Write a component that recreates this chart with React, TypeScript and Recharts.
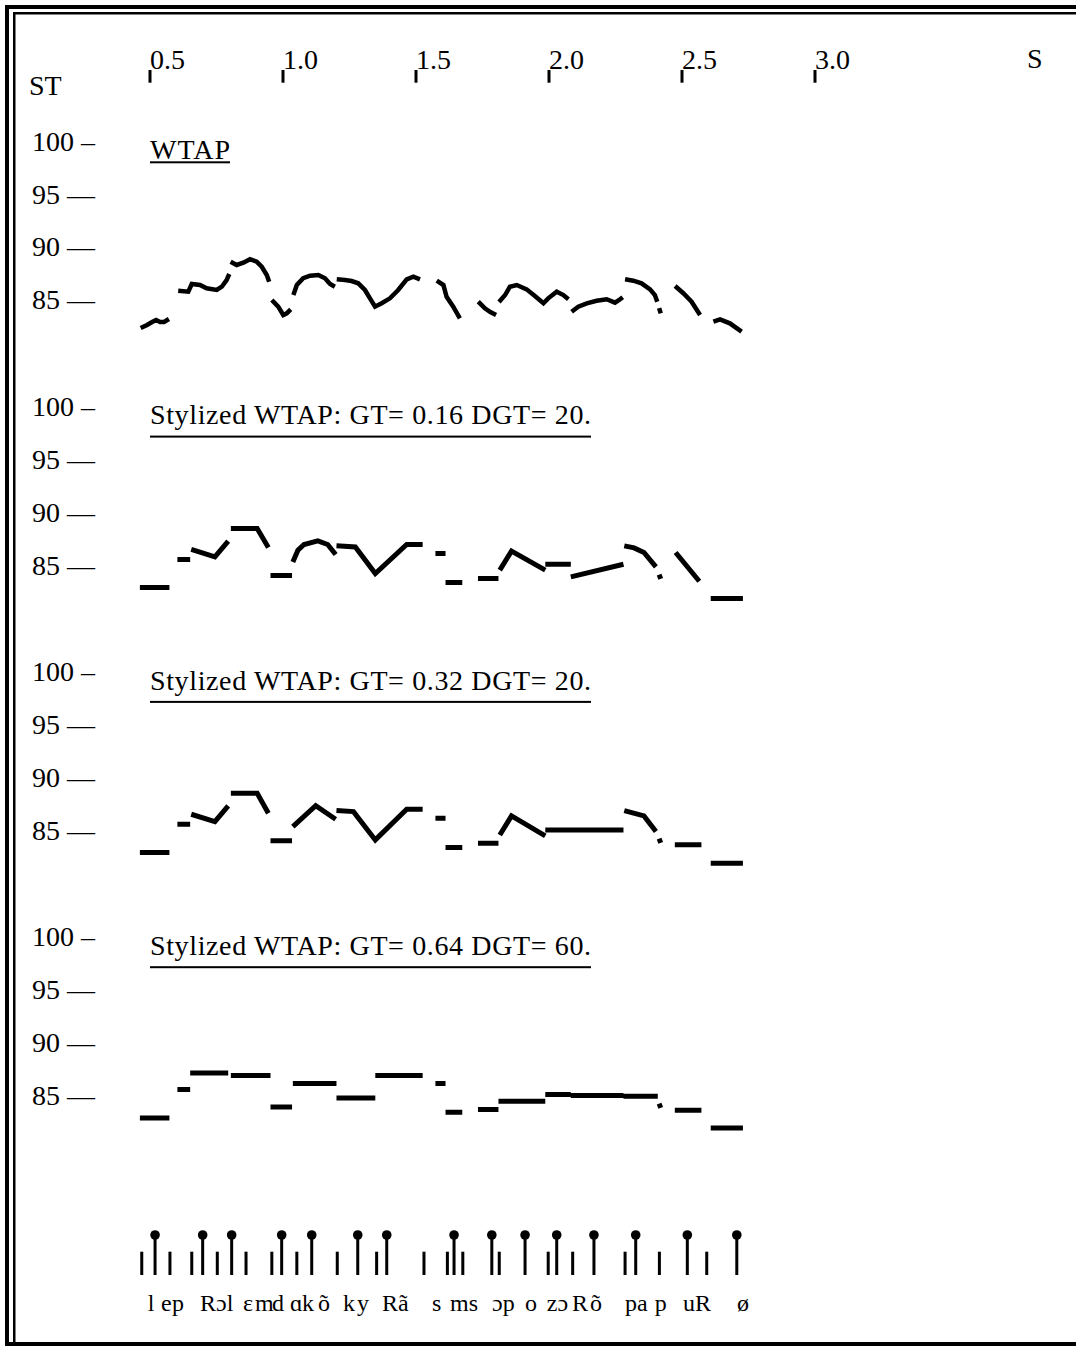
import React from 'react';
import { LineChart, Line, XAxis, YAxis, ScatterChart, Scatter } from 'recharts';

// [time (s), pitch (ST)] pairs, one array per voiced stretch
type Seg = number[][];

const timeTicks = [0.5, 1.0, 1.5, 2.0, 2.5, 3.0];
const stTicks = [85, 90, 95, 100];

const panelTitles = [
  'WTAP',
  'Stylized WTAP: GT= 0.16 DGT= 20.',
  'Stylized WTAP: GT= 0.32 DGT= 20.',
  'Stylized WTAP: GT= 0.64 DGT= 60.',
];

const wtap: Seg[] = [
  [[0.465, 82.51], [0.489, 82.79], [0.508, 83.08], [0.523, 83.27], [0.538, 83.08], [0.553, 83.08], [0.571, 83.36]],
  [[0.606, 86.04], [0.644, 85.95], [0.657, 86.68], [0.688, 86.58], [0.713, 86.27], [0.751, 86.11], [0.77, 86.42], [0.788, 87.05], [0.798, 87.62]],
  [[0.803, 88.79], [0.826, 88.48], [0.851, 88.69], [0.876, 89.02], [0.901, 88.79], [0.92, 88.31], [0.939, 87.53], [0.948, 86.89]],
  [[0.958, 85.16], [0.982, 84.53], [1.001, 83.74], [1.014, 83.9], [1.029, 84.28]],
  [[1.039, 85.63], [1.052, 86.58], [1.076, 87.22], [1.102, 87.46], [1.133, 87.53], [1.158, 87.22], [1.177, 86.68], [1.195, 86.42]],
  [[1.202, 87.12], [1.233, 87.05], [1.258, 86.96], [1.283, 86.74], [1.308, 86.11], [1.327, 85.32], [1.346, 84.53], [1.371, 84.85], [1.402, 85.32], [1.433, 86.11], [1.465, 87.12], [1.49, 87.37], [1.515, 87.12]],
  [[1.578, 86.99], [1.603, 86.58], [1.615, 85.47], [1.64, 84.53], [1.665, 83.43]],
  [[1.734, 85.0], [1.759, 84.38], [1.778, 84.05], [1.801, 83.74]],
  [[1.812, 84.97], [1.835, 85.63], [1.853, 86.42], [1.879, 86.58], [1.916, 86.17], [1.947, 85.54], [1.979, 84.85], [1.997, 85.32], [2.029, 85.95], [2.054, 85.63], [2.073, 85.23]],
  [[2.085, 84.05], [2.11, 84.53], [2.142, 84.85], [2.179, 85.09], [2.217, 85.23], [2.248, 84.91], [2.264, 85.16], [2.277, 85.42]],
  [[2.286, 87.12], [2.317, 86.99], [2.348, 86.74], [2.38, 86.17], [2.398, 85.63], [2.407, 85.0]],
  [[2.414, 84.4], [2.42, 83.9]],
  [[2.474, 86.49], [2.505, 85.8], [2.536, 85.0], [2.568, 83.74]],
  [[2.618, 83.11], [2.643, 83.33], [2.68, 82.95], [2.724, 82.16]],
];

const stylized016: Seg[] = [
  [[0.462, 83.08], [0.573, 83.08]],
  [[0.603, 85.73], [0.651, 85.73]],
  [[0.655, 86.68], [0.744, 85.98], [0.794, 87.46]],
  [[0.804, 88.66], [0.903, 88.66], [0.945, 86.87]],
  [[0.953, 84.21], [1.034, 84.21]],
  [[1.037, 85.5], [1.056, 86.61], [1.079, 87.15], [1.131, 87.49], [1.168, 87.15], [1.198, 86.2]],
  [[1.201, 87.02], [1.272, 86.92], [1.347, 84.4], [1.465, 87.15], [1.525, 87.15]],
  [[1.573, 86.3], [1.611, 86.3]],
  [[1.611, 83.55], [1.674, 83.55]],
  [[1.733, 83.93], [1.81, 83.93]],
  [[1.815, 84.72], [1.859, 86.52], [1.986, 84.72]],
  [[1.986, 85.28], [2.082, 85.28]],
  [[2.082, 84.08], [2.28, 85.28]],
  [[2.283, 87.02], [2.32, 86.83], [2.357, 86.39], [2.402, 85.03]],
  [[2.414, 84.3], [2.42, 83.9]],
  [[2.476, 86.39], [2.565, 83.67]],
  [[2.608, 82.04], [2.729, 82.04]],
];

const stylized032: Seg[] = [
  [[0.462, 83.07], [0.573, 83.07]],
  [[0.603, 85.76], [0.651, 85.76]],
  [[0.655, 86.7], [0.744, 86.0], [0.794, 87.49]],
  [[0.804, 88.69], [0.903, 88.69], [0.945, 86.8]],
  [[0.953, 84.18], [1.034, 84.18]],
  [[1.037, 85.53], [1.123, 87.52], [1.198, 86.23]],
  [[1.201, 87.05], [1.265, 86.95], [1.347, 84.27], [1.465, 87.18], [1.525, 87.18]],
  [[1.573, 86.33], [1.611, 86.33]],
  [[1.611, 83.54], [1.674, 83.54]],
  [[1.733, 83.96], [1.81, 83.96]],
  [[1.815, 84.74], [1.859, 86.54], [1.986, 84.65]],
  [[1.986, 85.22], [2.28, 85.22]],
  [[2.283, 87.05], [2.357, 86.54], [2.402, 85.06]],
  [[2.414, 84.4], [2.42, 84.0]],
  [[2.473, 83.8], [2.573, 83.8]],
  [[2.608, 82.06], [2.729, 82.06]],
];

const stylized064: Seg[] = [
  [[0.462, 83.04], [0.573, 83.04]],
  [[0.603, 85.72], [0.651, 85.72]],
  [[0.651, 87.3], [0.794, 87.3]],
  [[0.804, 87.05], [0.953, 87.05]],
  [[0.953, 84.08], [1.034, 84.08]],
  [[1.037, 86.29], [1.201, 86.29]],
  [[1.201, 84.93], [1.347, 84.93]],
  [[1.347, 87.05], [1.525, 87.05]],
  [[1.573, 86.29], [1.611, 86.29]],
  [[1.611, 83.57], [1.674, 83.57]],
  [[1.733, 83.83], [1.81, 83.83]],
  [[1.81, 84.61], [1.986, 84.61]],
  [[1.986, 85.25], [2.082, 85.25]],
  [[2.082, 85.15], [2.28, 85.15]],
  [[2.28, 85.09], [2.409, 85.09]],
  [[2.414, 84.4], [2.42, 84.0]],
  [[2.473, 83.76], [2.573, 83.76]],
  [[2.608, 82.09], [2.729, 82.09]],
];

// syllable nuclei (knobbed sticks) and phone boundaries (plain sticks)
const syllableTimes = [0.519, 0.698, 0.807, 0.995, 1.108, 1.281, 1.39, 1.643, 1.785, 1.91, 2.029, 2.169, 2.326, 2.52, 2.706];
const boundaryTimes = [0.469, 0.575, 0.657, 0.753, 0.861, 0.958, 1.052, 1.204, 1.352, 1.53, 1.618, 1.676, 1.813, 1.997, 2.089, 2.286, 2.415, 2.593];

const phones = ['l', 'e', 'p', 'Rɔ', 'l', 'ɛ', 'm', 'd', 'ɑ', 'k', 'õ', 'k', 'y', 'Rã', 's', 'ms', 'ɔp', 'o', 'zɔ', 'R', 'õ', 'pa', 'p', 'u', 'R', 'ø'];
const phoneTimes = [0.492, 0.541, 0.583, 0.688, 0.789, 0.85, 0.895, 0.959, 1.026, 1.071, 1.132, 1.226, 1.278, 1.372, 1.56, 1.628, 1.786, 1.91, 1.992, 2.086, 2.154, 2.286, 2.398, 2.504, 2.549, 2.707];

const FONT = "'Liberation Serif', 'Times New Roman', Times, serif";
const WIDTH = 1076;
const HEIGHT = 1346;
const T_MAX = 3.9;
const PX_PER_S = 266;
const LEFT = 17;
const RIGHT = WIDTH - LEFT - PX_PER_S * T_MAX;
const PLOT_TOP = 90.5;
const PLOT_H = 264;
const PANEL_STEP = 265.3;

const toRows = (segs: Seg[]) =>
  segs.flatMap((seg) => [
    ...seg.map(([t, st]) => ({ t, st })),
    { t: seg[seg.length - 1][0] + 0.0001, st: null as number | null },
  ]);

const TimeTick = (props: any) => {
  const { x, payload } = props;
  return (
    <g>
      <rect x={x - 1.5} y={70} width={3} height={12.7} fill="#000" />
      <text x={x} y={69} fontFamily={FONT} fontSize={28} fill="#000">
        {Number(payload.value).toFixed(1)}
      </text>
    </g>
  );
};

const StTick = (props: any) => {
  const { y, payload } = props;
  const dash = payload.value === 100 ? '–' : '—';
  return (
    <text x={95} y={y + 7.5} textAnchor="end" fontFamily={FONT} fontSize={28} fill="#000">
      {`${payload.value} ${dash}`}
    </text>
  );
};

const Panel = ({ segs, index }: { segs: Seg[]; index: number }) => {
  const first = index === 0;
  const top = first ? 0 : PLOT_TOP + PANEL_STEP * index;
  return (
    <div style={{ position: 'absolute', left: 0, top }}>
      <LineChart
        width={WIDTH}
        height={PLOT_H + (first ? PLOT_TOP : 0)}
        data={toRows(segs)}
        margin={{ top: first ? PLOT_TOP - 30 : 0, right: RIGHT, bottom: 0, left: 0 }}
      >
        <XAxis
          dataKey="t"
          type="number"
          domain={[0, T_MAX]}
          allowDataOverflow
          orientation="top"
          height={30}
          hide={!first}
          ticks={timeTicks}
          interval={0}
          axisLine={false}
          tickLine={false}
          tick={<TimeTick />}
        />
        <YAxis
          type="number"
          domain={[80, 105]}
          allowDataOverflow
          ticks={stTicks}
          interval={0}
          width={LEFT}
          axisLine={false}
          tickLine={false}
          tick={<StTick />}
        />
        <Line
          dataKey="st"
          type="linear"
          stroke="#000"
          strokeWidth={first ? 4.5 : 5}
          dot={false}
          activeDot={false}
          connectNulls={false}
          isAnimationActive={false}
        />
      </LineChart>
    </div>
  );
};

const SyllableStick = (props: any) => {
  const { cx, cy } = props;
  return (
    <g>
      <rect x={cx - 1.5} y={cy - 40} width={3} height={40} fill="#000" />
      <circle cx={cx} cy={cy - 40} r={4.8} fill="#000" />
    </g>
  );
};

const BoundaryStick = (props: any) => {
  const { cx, cy } = props;
  return <rect x={cx - 1.5} y={cy - 23.3} width={3} height={23.3} fill="#000" />;
};

const PhoneLabel = (props: any) => {
  const { cx, cy, payload } = props;
  return (
    <text x={cx} y={cy + 36} fontFamily={FONT} fontSize={24} fill="#000">
      {payload.text}
    </text>
  );
};

const Segmentation = () => {
  const syllables = syllableTimes.map((t) => ({ t, y: 0 }));
  const boundaries = boundaryTimes.map((t) => ({ t, y: 0 }));
  const labels = phones.map((text, i) => ({ t: phoneTimes[i], y: 0, text }));
  return (
    <div style={{ position: 'absolute', left: 0, top: 1215 }}>
      <ScatterChart width={WIDTH} height={110} margin={{ top: 0, right: RIGHT, bottom: 50, left: LEFT }}>
        <XAxis dataKey="t" type="number" domain={[0, T_MAX]} hide />
        <YAxis dataKey="y" type="number" domain={[0, 1]} hide />
        <Scatter data={boundaries} shape={<BoundaryStick />} isAnimationActive={false} />
        <Scatter data={syllables} shape={<SyllableStick />} isAnimationActive={false} />
        <Scatter data={labels} shape={<PhoneLabel />} isAnimationActive={false} />
      </ScatterChart>
    </div>
  );
};

const Frame = () => (
  <svg width={WIDTH} height={HEIGHT} style={{ position: 'absolute', left: 0, top: 0 }}>
    <rect x={0} y={0} width={WIDTH} height={HEIGHT} fill="#fff" />
    <rect x={5} y={5} width={WIDTH - 5} height={4} fill="#000" />
    <rect x={13} y={12} width={WIDTH - 13} height={2.5} fill="#000" />
    <rect x={5} y={5} width={4} height={HEIGHT - 5} fill="#000" />
    <rect x={13} y={12} width={2.5} height={HEIGHT - 12} fill="#000" />
    <rect x={5} y={HEIGHT - 4} width={WIDTH - 5} height={4} fill="#000" />
    <text x={29} y={95} fontFamily={FONT} fontSize={28}>ST</text>
    <text x={1027} y={68} fontFamily={FONT} fontSize={28}>S</text>
    {panelTitles.map((title, i) => {
      const off = PANEL_STEP * i;
      const plain = i === 0;
      const w = plain ? 80 : 441;
      const lineY = (plain ? 162.3 : 171.3) + off;
      return (
        <g key={title}>
          <text x={150} y={159 + off} fontFamily={FONT} fontSize={28} textLength={w} lengthAdjust="spacing">
            {title}
          </text>
          <rect x={150} y={lineY - 1} width={w} height={2} fill="#000" />
        </g>
      );
    })}
  </svg>
);

const App: React.FC = () => (
  <div style={{ position: 'absolute', left: 0, top: 0, width: WIDTH, height: HEIGHT, background: '#fff' }}>
    <Frame />
    <Panel segs={wtap} index={0} />
    <Panel segs={stylized016} index={1} />
    <Panel segs={stylized032} index={2} />
    <Panel segs={stylized064} index={3} />
    <Segmentation />
  </div>
);

export default App;
